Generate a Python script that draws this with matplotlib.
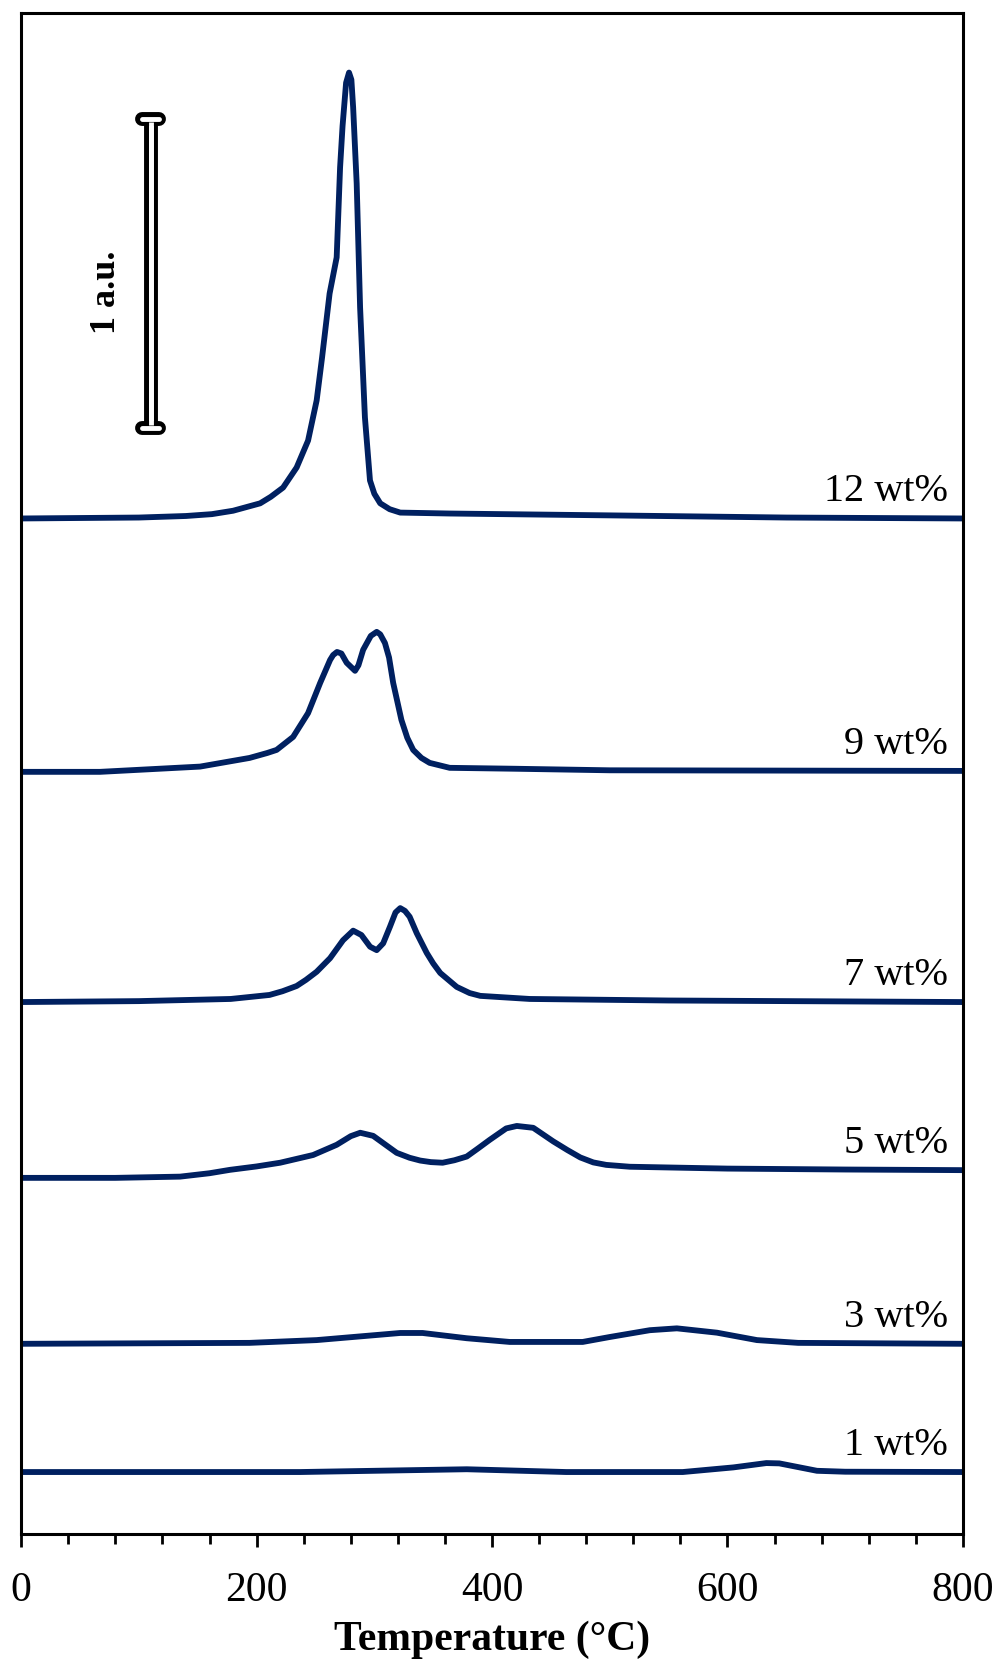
import matplotlib
matplotlib.use("Agg")
import matplotlib.pyplot as plt
import matplotlib.patheffects as pe
from matplotlib.ticker import MultipleLocator

plt.rcParams['font.family'] = ['Liberation Serif', 'DejaVu Serif']

# TPD-like traces, temperature (°C) vs signal above each trace's own baseline (a.u.)
labels = ['12 wt%', '9 wt%', '7 wt%', '5 wt%', '3 wt%', '1 wt%']
offsets = [3.288, 2.468, 1.723, 1.154, 0.617, 0.202]

t12 = [0, 100, 140, 162, 180, 203, 212, 222.5, 234, 243.7, 251, 255.6, 262, 268, 270.9, 273, 276, 278.5, 280.5,
       282, 285, 287.9, 292, 296.3, 300, 305, 313, 322, 364, 500, 650, 800]
s12 = [0, 0.003, 0.008, 0.014, 0.025, 0.049, 0.07, 0.10, 0.165, 0.252, 0.382, 0.521, 0.728, 0.845, 1.136, 1.27, 1.41,
       1.443, 1.42, 1.33, 1.084, 0.683, 0.327, 0.123, 0.08, 0.049, 0.03, 0.019, 0.016, 0.01, 0.003, 0]

t9 = [0, 67, 152, 194, 209, 217, 231, 243.7, 254, 262.4, 265, 268.3, 272, 276.5, 283.6, 286.5, 290.5,
      297, 302, 305, 309, 312.5, 316, 323, 328, 333, 340, 347, 364, 420, 500, 800]
s9 = [0, 0, 0.017, 0.045, 0.061, 0.071, 0.113, 0.19, 0.288, 0.362, 0.378, 0.388, 0.383, 0.353, 0.327, 0.345, 0.395,
      0.44, 0.453, 0.445, 0.417, 0.37, 0.288, 0.168, 0.11, 0.071, 0.045, 0.029, 0.013, 0.01, 0.005, 0.003]

t7 = [0, 100, 178, 211, 222, 234, 242, 251, 262.4, 273.4, 282, 289, 296.4, 302, 307.5, 313.3, 318, 322,
      326, 330, 336, 344.5, 350, 356, 370, 381, 390, 432, 550, 800]
s7 = [0, 0.003, 0.01, 0.023, 0.035, 0.052, 0.072, 0.098, 0.142, 0.2, 0.231, 0.217, 0.179, 0.168, 0.19, 0.244,
      0.29, 0.304, 0.295, 0.276, 0.223, 0.159, 0.125, 0.094, 0.049, 0.029, 0.02, 0.01, 0.005, 0]

t5 = [0, 80, 135, 160, 177.4, 200, 220, 248, 268, 280, 288, 299, 319, 330, 339, 348, 358, 368, 378.5, 388,
      398, 412, 421, 435, 452, 464, 475, 486, 497, 517, 600, 700, 800]
s5 = [0, 0.0, 0.004, 0.015, 0.026, 0.037, 0.049, 0.074, 0.107, 0.135, 0.146, 0.136, 0.081, 0.065, 0.056, 0.051,
      0.049, 0.057, 0.069, 0.095, 0.123, 0.16, 0.168, 0.162, 0.118, 0.09, 0.066, 0.05, 0.042, 0.036, 0.03, 0.027, 0.025]

t3 = [0, 194, 251, 285, 322, 341, 378.5, 415, 477, 500, 534, 557, 591, 625, 660, 800]
s3 = [0, 0.003, 0.012, 0.023, 0.035, 0.035, 0.018, 0.006, 0.006, 0.022, 0.044, 0.05, 0.036, 0.012, 0.003, 0]

t1 = [0, 237, 378.5, 463, 562, 605, 633, 644, 676, 700, 800]
s1 = [0, 0, 0.009, 0, 0, 0.015, 0.029, 0.028, 0.004, 0.001, 0]

temps = [t12, t9, t7, t5, t3, t1]
signals = [s12, s9, s7, s5, s3, s1]

fig = plt.figure(figsize=(9.99, 16.63), dpi=100)
ax = fig.add_axes([0.0212, 0.0773, 0.9427, 0.9151])

navy = '#002060'
for lab, off, t, s in zip(labels, offsets, temps, signals):
    y = [off + v for v in s]
    ax.plot(t, y, color=navy, lw=4.2, solid_capstyle='round', solid_joinstyle='round')
    ax.text(787, y[-1] + 0.055, lab, ha='right', va='baseline', fontsize=29)

# scale bar, 1 a.u.
bar_x, bar_lo = 110, 3.58
cap = 7
outline = [pe.Stroke(linewidth=10, foreground='black'), pe.Normal()]
ax.plot([bar_x, bar_x], [bar_lo, bar_lo + 1], color='white', lw=3.5, path_effects=outline,
        solid_capstyle='butt', zorder=5)
for yy in (bar_lo, bar_lo + 1):
    ax.plot([bar_x - cap, bar_x + cap], [yy, yy], color='white', lw=3.5, path_effects=outline,
            solid_capstyle='round', zorder=6)
ax.plot([bar_x, bar_x], [bar_lo + 0.01, bar_lo + 0.99], color='white', lw=3.5, zorder=7,
        solid_capstyle='butt')
ax.text(72.6, bar_lo + 0.44, '1 a.u.', rotation=90, ha='center', va='center',
        fontsize=26, fontweight='bold')

ax.set_xlim(0, 800)
ax.set_ylim(0, 4.925)
ax.xaxis.set_major_locator(MultipleLocator(200))
ax.xaxis.set_minor_locator(MultipleLocator(40))
ax.tick_params(axis='x', which='major', direction='out', length=9.5, width=2, labelsize=30, pad=17)
ax.tick_params(axis='x', which='minor', direction='out', length=7, width=2)
ax.set_yticks([])
for sp in ax.spines.values():
    sp.set_linewidth(2.2)
ax.set_xlabel('Temperature (°C)', fontsize=30, fontweight='bold', labelpad=8)

fig.savefig('out.png', dpi=100)
